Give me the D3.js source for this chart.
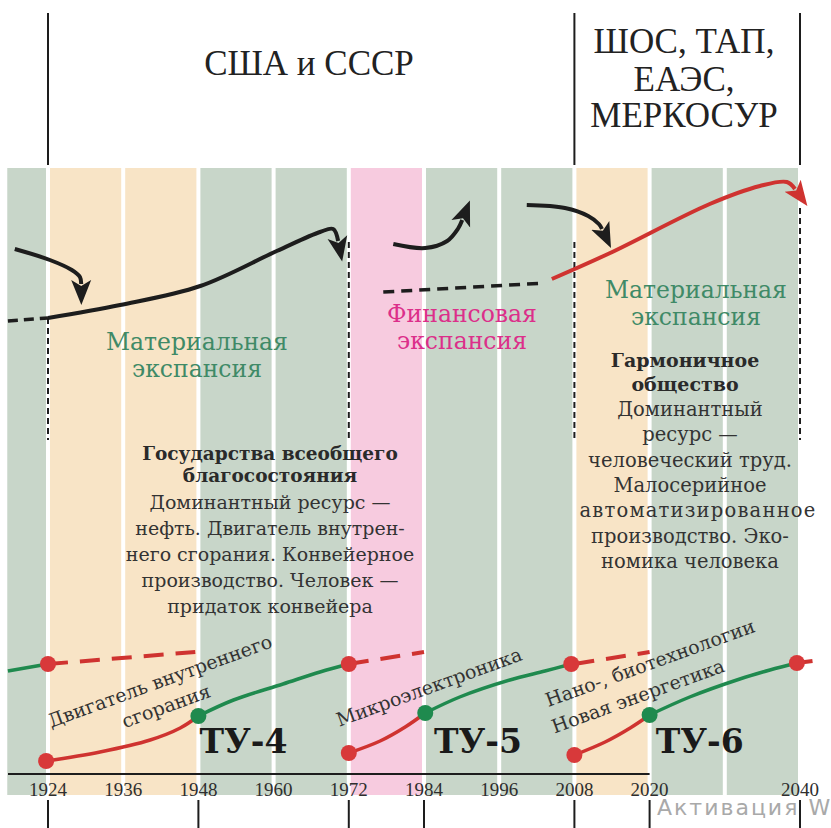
<!DOCTYPE html>
<meta charset="utf-8">
<script src="https://d3js.org/d3.v7.min.js"></script>
<style>
  body { margin: 0; background: #fff; }
  svg text { font-family: "DejaVu Serif", serif; }
  svg text.times { font-family: "Liberation Serif", "Times New Roman", serif; }
</style>
<div id="chart"></div>
<script>

// background bands: 12-year steps, and which kind of period each one is
var bandEdges = [1917.5, 1924, 1936, 1948, 1960, 1972, 1984, 1996, 2008, 2020, 2032, 2044];
var bandPhase = ["mat", "trans", "trans", "mat", "mat", "fin", "mat", "mat", "trans", "mat", "mat"];

// axis
var tickYears  = [1924, 1936, 1948, 1960, 1972, 1984, 1996, 2008, 2020, 2044];
var tickLabels = ["1924", "1936", "1948", "1960", "1972", "1984", "1996", "2008", "2020", "2040"];
var markYears  = [1924, 1948, 1972, 1984, 2008, 2020, 2044];

// top curves: [year, level]
var blackDashLeft = [[1917.6, 477], [1924, 480]];
var blackMain = [[1924, 480], [1935.5, 493], [1948.3, 512], [1960.5, 547], [1967.4, 566], [1969.5, 569], [1970.3, 557]];
var blackDashMid = [[1977.5, 506], [2003.3, 515]];
var arrowIn  = [[1918.7, 549], [1924.3, 538], [1927.8, 528], [1929.1, 521], [1929.3, 514]];
var arrowUp  = [[1979.1, 554], [1984.2, 550], [1987.7, 557], [1989.4, 569], [1990.1, 578]];
var arrowOut = [[2000.4, 593], [2006.5, 590], [2010.2, 582], [2011.9, 574], [2012.4, 569]];
var redMain  = [[2004.4, 519], [2013.7, 545], [2029.6, 594], [2037.6, 612], [2041.9, 616], [2043.2, 609]];

// vertical dashed dividers
var dividerYears = [1924, 1972, 2008, 2044];
var dividerTop   = [480, 556, 556, 590];
var dividerBottom = 358;

// technological waves (ТУ-4, ТУ-5, ТУ-6)
var redDash = [
  [[1924, 134], [1947.5, 146]],
  [[1972, 134], [1984, 146]],
  [[2008, 134], [2020, 146]],
  [[2043.5, 135], [2046, 137]]
];
var greenLines = [
  [[1917.6, 127], [1924, 134]],
  [[1948, 82], [1953.6, 98], [1961.5, 114], [1967.4, 126], [1972, 134]],
  [[1984.2, 85], [1989.7, 101], [1997.7, 118], [2003.3, 127], [2007.5, 134]],
  [[2020, 83], [2026.4, 101], [2034.4, 119], [2039.2, 128], [2043.5, 135]]
];
var redRise = [
  [[1923.7, 37], [1932.3, 46], [1940.3, 58], [1945.1, 70], [1948, 82]],
  [[1972, 45], [1977, 57], [1981, 71], [1984.2, 85]],
  [[2008, 43], [2012.9, 56], [2016.9, 70], [2020, 83]]
];
var redDotsTop = [[1924, 134], [1972, 134], [2007.5, 134], [2043.5, 135]];
var redDotsLow = [[1923.7, 37], [1972, 45], [2008, 43]];
var greenDots  = [[1948, 82], [1984.2, 85], [2020, 83]];
var waveNames  = ["ТУ-4", "ТУ-5", "ТУ-6"];
var waveYears  = [1955.2, 1992.6, 2028];

var W = 831, H = 828;
var colors = { mat: "#c8d6c9", trans: "#f8e4c6", fin: "#f7cbdf" };
var red = "#cf3330", green = "#1f8a4e", ink = "#1d1d1d";

var svg = d3.select("#chart").append("svg")
    .attr("width", W).attr("height", H);

var x = d3.scaleLinear().domain([1924, 2044]).range([48, 800]);
var y = d3.scaleLinear().domain([0, 630]).range([798, 168]);

var line = d3.line()
    .x(function(d) { return x(d[0]); })
    .y(function(d) { return y(d[1]); })
    .curve(d3.curveCatmullRom);

// arrow heads
var defs = svg.append("defs");
function head(id, fill) {
  defs.append("marker")
      .attr("id", id)
      .attr("viewBox", "0 -11 26 22")
      .attr("markerUnits", "userSpaceOnUse")
      .attr("markerWidth", 26).attr("markerHeight", 22)
      .attr("refX", 4).attr("refY", 0)
      .attr("orient", "auto")
    .append("path")
      .attr("d", "M0,-10 L25,0 L0,10 L6,0 Z")
      .attr("fill", fill);
}
head("hb", ink);
head("hr", red);

// bands
var bands = bandPhase.map(function(p, i) { return { s: bandEdges[i], e: bandEdges[i + 1], p: p }; });
svg.selectAll(".band").data(bands).enter().append("rect")
    .attr("x", function(d, i) { return x(d.s) + (i ? 2 : 0); })
    .attr("width", function(d, i) { return x(d.e) - x(d.s) - (i ? 4 : 2); })
    .attr("y", y(630))
    .attr("height", y(3) - y(630))
    .attr("fill", function(d) { return colors[d.p]; });

// dashed dividers
svg.selectAll(".div").data(dividerYears).enter().append("line")
    .attr("x1", function(d) { return x(d); }).attr("x2", function(d) { return x(d); })
    .attr("y1", function(d, i) { return y(dividerTop[i]); })
    .attr("y2", y(dividerBottom))
    .attr("stroke", ink).attr("stroke-width", 2)
    .attr("stroke-dasharray", "6,4");

// top curves
function path(data, color, width, dash, marker) {
  var p = svg.append("path").attr("d", line(data))
      .attr("fill", "none").attr("stroke", color)
      .attr("stroke-width", width);
  if (dash) p.attr("stroke-dasharray", dash);
  if (marker) p.attr("marker-end", "url(#" + marker + ")");
  return p;
}
path(blackDashLeft, ink, 3.5, "10,6");
path(blackDashMid, ink, 3.5, "11,7");
path(blackMain, ink, 4, null, "hb");
path(arrowIn, ink, 4, null, "hb");
path(arrowUp, ink, 4, null, "hb");
path(arrowOut, ink, 4, null, "hb");
path(redMain, red, 4, null, "hr");

// phase names and notes
function lines(cx, y0, step, arr, size, color, weight) {
  var t = svg.append("text")
      .attr("text-anchor", "middle")
      .attr("font-size", size)
      .attr("fill", color)
      .attr("font-weight", weight || "normal");
  arr.forEach(function(s, i) {
    t.append("tspan").attr("x", cx).attr("y", y0 + i * step).text(s);
  });
  return t;
}
var matGreen = "#3f8a67", finPink = "#dc2f8a";
lines(197, 350, 27, ["Материальная", "экспансия"], 23.5, matGreen);
lines(462, 322, 27, ["Финансовая", "экспансия"], 23.5, finPink);
lines(696, 298, 27, ["Материальная", "экспансия"], 23.5, matGreen);

lines(270, 460, 22, ["Государства всеобщего", "благосостояния"], 18.5, "#2a2a2a", "bold");
lines(270, 509, 26, ["Доминантный ресурс —", "нефть. Двигатель внутрен-", "него сгорания. Конвейерное",
                      "производство. Человек —", "придаток конвейера"], 19, "#333");

lines(685, 367, 24, ["Гармоничное", "общество"], 19, "#2a2a2a", "bold");
var note = lines(690, 416, 25.3, ["Доминантный", "ресурс —", "человеческий труд.", "Малосерийное",
                        "автоматизированное", "производство. Эко-", "номика человека"], 19.5, "#333");
// the source sets this line a little wider
note.selectAll("tspan").filter(function(d, i) { return i === 4; })
    .attr("x", 698).attr("letter-spacing", 1.2);

// waves
redDash.forEach(function(d) { path(d, red, 4, "20,12"); });
greenLines.forEach(function(d) { path(d, green, 3.5); });
redRise.forEach(function(d) { path(d, red, 3.5); });

function dots(data, color) {
  svg.selectAll(null).data(data).enter().append("circle")
      .attr("cx", function(d) { return x(d[0]); })
      .attr("cy", function(d) { return y(d[1]); })
      .attr("r", 8)
      .attr("fill", color);
}
dots(redDotsTop, "#d8393a");
dots(redDotsLow, "#d8393a");
dots(greenDots, green);

svg.selectAll(".wave").data(waveNames).enter().append("text")
    .attr("x", function(d, i) { return x(waveYears[i]); })
    .attr("y", 753)
    .attr("text-anchor", "middle")
    .attr("font-size", 33)
    .attr("font-weight", "bold")
    .attr("fill", "#1a1a1a")
    .text(function(d) { return d; });

// tilted technology labels
function tilted(cx, cy, s) {
  svg.append("text")
      .attr("transform", "translate(" + cx + "," + cy + ") rotate(-20)")
      .attr("text-anchor", "middle")
      .attr("dy", "0.35em")
      .attr("font-size", 19)
      .attr("fill", "#333")
      .text(s);
}
tilted(160, 681, "Двигатель внутреннего");
tilted(166, 706, "сгорания");
tilted(429, 687, "Микроэлектроника");
tilted(650, 663, "Нано-, биотехнологии");
tilted(638, 696, "Новая энергетика");

// axis
svg.append("line")
    .attr("x1", 8).attr("x2", x(2020))
    .attr("y1", 774).attr("y2", 774)
    .attr("stroke", ink).attr("stroke-width", 2);

svg.selectAll(".tick").data(tickYears).enter().append("text")
    .attr("class", "times")
    .attr("x", function(d) { return x(d); })
    .attr("y", 796)
    .attr("text-anchor", "middle")
    .attr("font-size", 19)
    .attr("fill", "#2e2e2e")
    .text(function(d, i) { return tickLabels[i]; });

svg.selectAll(".mark").data(markYears).enter().append("line")
    .attr("x1", function(d) { return x(d); }).attr("x2", function(d) { return x(d); })
    .attr("y1", 800).attr("y2", H)
    .attr("stroke", ink).attr("stroke-width", 2);

// header
[1924, 2008, 2044].forEach(function(d) {
  svg.append("line")
      .attr("x1", x(d)).attr("x2", x(d))
      .attr("y1", 13).attr("y2", 165)
      .attr("stroke", ink).attr("stroke-width", 2);
});
svg.append("text")
    .attr("class", "times")
    .attr("x", 309).attr("y", 75)
    .attr("text-anchor", "middle")
    .attr("font-size", 35)
    .attr("fill", "#222")
    .text("США и СССР");
var hdr = svg.append("text")
    .attr("class", "times")
    .attr("text-anchor", "middle")
    .attr("font-size", 35)
    .attr("fill", "#222");
[["ШОС, ТАП,", 53], ["ЕАЭС,", 91], ["МЕРКОСУР", 127]].forEach(function(r) {
  hdr.append("tspan").attr("x", 684).attr("y", r[1]).text(r[0]);
});

// screen watermark seen in the source
svg.append("text")
    .attr("x", 657).attr("y", 815)
    .style("font-family", "'DejaVu Sans', sans-serif")
    .attr("font-size", 22)
    .attr("letter-spacing", 2)
    .attr("fill", "#a9a9a9")
    .text("Активация Windows");

</script>
